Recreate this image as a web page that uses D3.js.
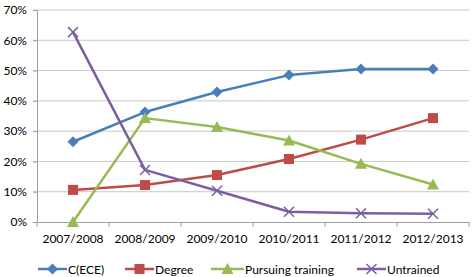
<!DOCTYPE html>
<html>
<head>
<meta charset="utf-8">
<script src="https://cdn.jsdelivr.net/npm/d3@7"></script>
<style>
  body { margin: 0; background: #fff; }
  text { font-family: Lato, "Open Sans", sans-serif; fill: #000; }
</style>
</head>
<body>
<div id="chart"></div>
<script>
const years = ['2007/2008', '2008/2009', '2009/2010', '2010/2011', '2011/2012', '2012/2013'];
const cece = [26.5, 36.3, 42.9, 48.5, 50.5, 50.5];
const degree = [10.6, 12.2, 15.5, 20.8, 27.2, 34.3];
const pursuing = [0, 34.3, 31.4, 26.9, 19.2, 12.4];
const untrained = [62.7, 17.2, 10.3, 3.4, 2.9, 2.7];
const yTicks = [0, 10, 20, 30, 40, 50, 60, 70];

const series = [
    { name: 'C(ECE)', values: cece, color: '#4a7ebb', marker: 'diamond' },
    { name: 'Degree', values: degree, color: '#be4b48', marker: 'square' },
    { name: 'Pursuing training', values: pursuing, color: '#98b954', marker: 'triangle' },
    { name: 'Untrained', values: untrained, color: '#7d5fa0', marker: 'x' }
];

const width = 472, height = 277;
const m = { left: 37, right: 3, top: 10, bottom: 55 };

const svg = d3.select('#chart').append('svg')
    .attr('width', width)
    .attr('height', height);

const x = d3.scaleBand().domain(years).range([m.left, width - m.right]);
const y = d3.scaleLinear().domain([0, 70]).range([height - m.bottom, m.top]);

// 网格线
svg.append('g')
    .selectAll('line')
    .data(yTicks.filter(d => d > 0))
    .enter().append('line')
    .attr('x1', m.left - 4).attr('x2', width - m.right)
    .attr('y1', d => y(d)).attr('y2', d => y(d))
    .attr('stroke', '#c8c8c8').attr('stroke-width', 1);

// y 轴
const yAxis = svg.append('g')
    .attr('transform', `translate(${m.left},0)`)
    .call(d3.axisLeft(y).tickValues(yTicks).tickFormat(d => d + '%').tickSize(4).tickPadding(6));
yAxis.select('.domain').attr('stroke', '#a0a0a0');
yAxis.selectAll('.tick line').attr('stroke', '#a0a0a0');
yAxis.selectAll('text').style('font-size', '12px').style('font-family', 'Lato, sans-serif');

// x 轴
const xAxis = svg.append('g')
    .attr('transform', `translate(0,${y(0)})`)
    .call(d3.axisBottom(x).tickSize(0).tickPadding(12));
xAxis.select('.domain').attr('stroke', '#a0a0a0');
xAxis.selectAll('text').style('font-size', '12px').style('font-family', 'Lato, sans-serif');
// 分类之间的刻度线
svg.append('g')
    .selectAll('line')
    .data(d3.range(years.length + 1))
    .enter().append('line')
    .attr('x1', i => m.left + i * x.step()).attr('x2', i => m.left + i * x.step())
    .attr('y1', y(0)).attr('y2', y(0) + 5)
    .attr('stroke', '#a0a0a0');

const cx = d => x(d) + x.bandwidth() / 2;

function drawMarker(g, type, color) {
    if (type === 'diamond') {
        g.append('path').attr('d', 'M0,-5.5L5.5,0L0,5.5L-5.5,0Z').attr('fill', color);
    } else if (type === 'square') {
        g.append('rect').attr('x', -5).attr('y', -5).attr('width', 10).attr('height', 10).attr('fill', color);
    } else if (type === 'triangle') {
        g.append('path').attr('d', 'M0,-6L6,5L-6,5Z').attr('fill', color);
    } else {
        g.append('path').attr('d', 'M-5,-5L5,5M-5,5L5,-5')
            .attr('stroke', color).attr('stroke-width', 1.5).attr('fill', 'none');
    }
}

const line = d3.line().x((d, i) => cx(years[i])).y(d => y(d));

series.forEach(s => {
    svg.append('path')
        .datum(s.values)
        .attr('d', line)
        .attr('fill', 'none')
        .attr('stroke', s.color)
        .attr('stroke-width', 2.5)
        .attr('stroke-linejoin', 'round');
    s.values.forEach((v, i) => {
        const g = svg.append('g').attr('transform', `translate(${cx(years[i])},${y(v)})`);
        drawMarker(g, s.marker, s.color);
    });
});

// 图例
const legendX = [38, 125, 211, 357];
const legendY = 269;
series.forEach((s, i) => {
    const lg = svg.append('g').attr('transform', `translate(${legendX[i]},${legendY})`);
    const len = s.marker === 'triangle' ? 33 : 29;
    lg.append('line').attr('x1', 0).attr('x2', len).attr('y1', 0).attr('y2', 0)
        .attr('stroke', s.color).attr('stroke-width', 2.5);
    const mg = lg.append('g').attr('transform', `translate(${len / 2},0)`);
    drawMarker(mg, s.marker, s.color);
    lg.append('text').attr('x', len + 1).attr('y', 4.5)
        .style('font-size', '12px')
        .text(s.name);
});
</script>
</body>
</html>
